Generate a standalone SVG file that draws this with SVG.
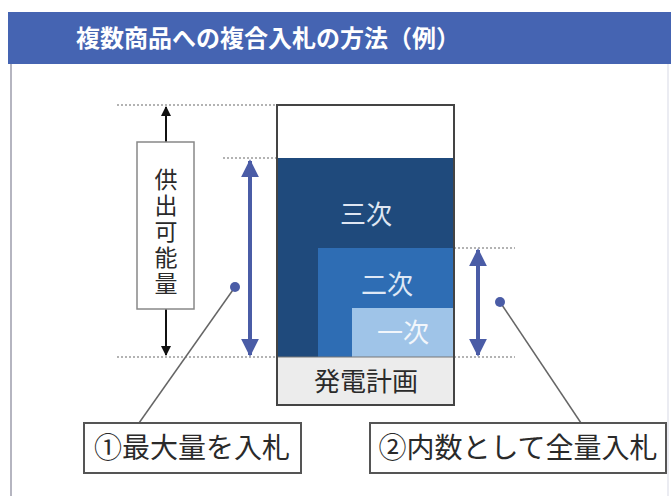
<svg xmlns="http://www.w3.org/2000/svg" width="671" height="496" viewBox="0 0 671 496">
<style>
.jp{font-family:"Noto Sans CJK JP","Noto Sans CJK SC",sans-serif}
.dot{stroke:#9a9a9a;stroke-width:1.5;stroke-dasharray:2 2;fill:none}
.blue{stroke:#4a5ca6;stroke-width:4;fill:none}
.call{stroke:#666;stroke-width:1.5;fill:none}
.cbox{fill:#fff;stroke:#555;stroke-width:2}
</style>
<defs>
<marker id="bh" viewBox="0 0 10 10" refX="9" refY="5" markerWidth="4.5" markerHeight="4.5" orient="auto-start-reverse" markerUnits="strokeWidth">
<path d="M0,0 L10,5 L0,10 z" fill="#4a5ca6"/>
</marker>
<marker id="kh" viewBox="0 0 10 10" refX="9" refY="5" markerWidth="5" markerHeight="5" orient="auto-start-reverse" markerUnits="strokeWidth">
<path d="M0,0 L10,5 L0,10 z" fill="#111"/>
</marker>
</defs>
<rect width="671" height="496" fill="#fff"/>
<g id="panel">
<line x1="11" y1="64" x2="11" y2="496" stroke="#b5b5c0" stroke-width="2"/>
<line x1="668" y1="64" x2="668" y2="496" stroke="#e4e6ee" stroke-width="1.5"/>
</g>
<g id="title">
<rect x="8" y="12" width="663" height="52" fill="#4564b2"/>
<text x="268" y="47" text-anchor="middle" class="jp" font-size="24" font-weight="bold" fill="#fff">複数商品への複合入札の方法（例）</text>
</g>
<g id="guides">
<line class="dot" x1="117" y1="105" x2="277" y2="105"/>
<line class="dot" x1="223" y1="158" x2="277" y2="158"/>
<line class="dot" x1="117" y1="357" x2="277" y2="357"/>
<line class="dot" x1="454" y1="248" x2="515" y2="248"/>
<line class="dot" x1="454" y1="357" x2="515" y2="357"/>
</g>
<g id="stack">
<rect x="277" y="105" width="177" height="300" fill="#fff"/>
<rect x="277" y="158" width="177" height="199" fill="#1f4a7c"/>
<rect x="318" y="248" width="136" height="109" fill="#2e6db4"/>
<rect x="352" y="308" width="102" height="49" fill="#9fc4e8"/>
<rect x="277" y="357" width="177" height="48" fill="#ececec"/>
<line x1="277" y1="357" x2="454" y2="357" stroke="#777" stroke-width="1"/>
<rect x="277" y="105" width="177" height="300" fill="none" stroke="#444" stroke-width="2"/>
<text x="366" y="224" text-anchor="middle" class="jp" font-size="26" fill="#dfe6f2">三次</text>
<text x="387" y="294" text-anchor="middle" class="jp" font-size="26" fill="#dfe8f5">二次</text>
<text x="403" y="342" text-anchor="middle" class="jp" font-size="26" fill="#f2f6fb">一次</text>
<text x="366" y="391" text-anchor="middle" class="jp" font-size="26" fill="#2a2a2a">発電計画</text>
</g>
<g id="connectors">
<line x1="166" y1="142" x2="166" y2="107" stroke="#111" stroke-width="2" marker-end="url(#kh)"/>
<line x1="166" y1="309" x2="166" y2="355" stroke="#111" stroke-width="2" marker-end="url(#kh)"/>
<line class="blue" x1="250" y1="161" x2="250" y2="355" marker-start="url(#bh)" marker-end="url(#bh)"/>
<line class="blue" x1="478" y1="250" x2="478" y2="355" marker-start="url(#bh)" marker-end="url(#bh)"/>
<line class="call" x1="235" y1="287" x2="139" y2="423"/>
<line class="call" x1="500" y1="302" x2="581" y2="423"/>
<circle cx="235" cy="287" r="5" fill="#4a5ca6"/>
<circle cx="500" cy="302" r="5" fill="#4a5ca6"/>
</g>
<g id="supply">
<rect x="137" y="142" width="57" height="167" fill="#fff" stroke="#888" stroke-width="1.5"/>
<text x="166" y="168" writing-mode="vertical-rl" letter-spacing="3" class="jp" font-size="23" fill="#2a2a2a">供出可能量</text>
</g>
<g id="label1">
<rect class="cbox" x="84" y="423" width="217" height="50"/>
<text x="192" y="458" text-anchor="middle" class="jp" font-size="28" fill="#2a2a2a">①最大量を入札</text>
</g>
<g id="label2">
<rect class="cbox" x="370" y="423" width="296" height="50"/>
<text x="518" y="458" text-anchor="middle" class="jp" font-size="28" fill="#2a2a2a">②内数として全量入札</text>
</g>
</svg>
